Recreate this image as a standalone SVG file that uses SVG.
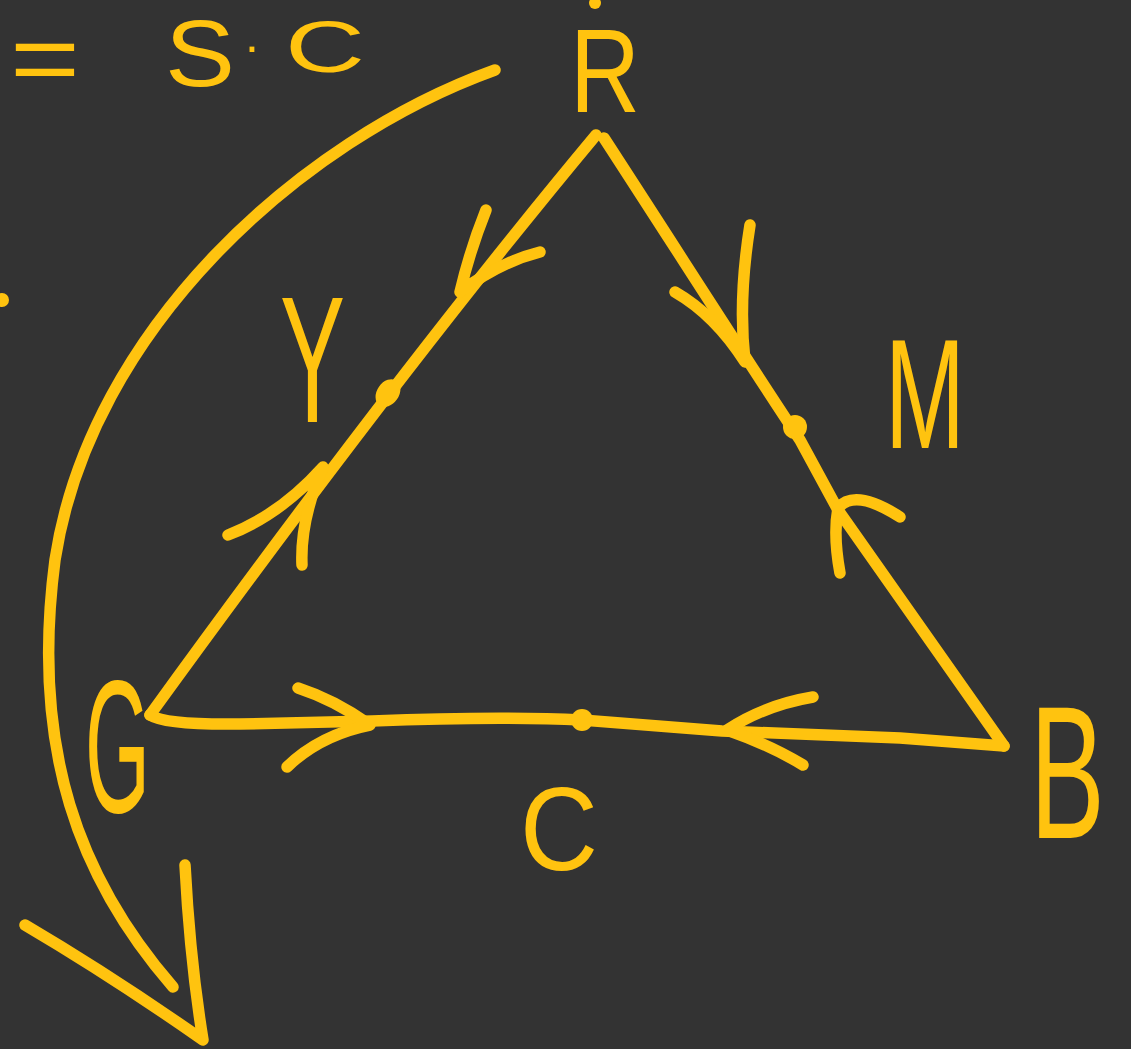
<svg xmlns="http://www.w3.org/2000/svg" width="1131" height="1049" viewBox="0 0 1131 1049">
<style>
.s{fill:none;stroke:#FFC30F;stroke-width:11.5;stroke-linecap:round;stroke-linejoin:round}
.d{fill:#FFC30F}
.t{fill:#FFC30F;font-family:"Liberation Sans","DejaVu Sans",sans-serif}
</style>
<rect width="1131" height="1049" fill="#333333"/>
<g id="connectors">
<path class="s" d="M596,135 Q400,370 150,715"/>
<path class="s" d="M604,138 C680,255 750,365 800,440 L838,510 L1004,746"/>
<path class="s" d="M150,715 Q165,725 240,724 L372,721 Q500,716 582,720 L722,731 L900,738 L1004,746"/>
<path class="s" d="M486,210 Q470,250 460,292 Q500,262 540,252"/>
<path class="s" d="M750,225 Q738,300 745,362 Q715,315 675,292"/>
<path class="s" d="M840,573 Q833,535 838,508 Q855,488 900,517"/>
<path class="s" d="M228,535 Q280,515 323,467 Q300,520 302,565"/>
<path class="s" d="M298,688 Q335,700 370,725 Q320,735 287,767"/>
<path class="s" d="M813,697 Q765,705 727,730 Q770,745 803,765"/>
<path class="s" d="M495,70 C300,140 90,330 55,560 C30,750 80,880 173,987"/>
<path class="s" d="M185,865 Q190,960 203,1040 Q110,975 25,925"/>
</g>
<g id="dots">
<ellipse class="d" cx="388" cy="393" rx="11" ry="15" transform="rotate(35 388 393)"/>
<circle class="d" cx="795" cy="427" r="12"/>
<circle class="d" cx="582" cy="720" r="11"/>
<circle class="d" cx="595" cy="3" r="6"/>
<circle class="d" cx="2" cy="300" r="7"/>
</g>
<g id="node-title">
<text class="t" font-size="100" x="10" y="93" textLength="70" lengthAdjust="spacingAndGlyphs">=</text>
<text class="t" font-size="95" x="165" y="86" textLength="70" lengthAdjust="spacingAndGlyphs">S</text>
<text class="t" font-size="50" x="245" y="52">.</text>
<text class="t" font-size="72" x="285" y="72" textLength="80" lengthAdjust="spacingAndGlyphs">C</text>
</g>
<g id="node-R"><text class="t" font-size="118" x="570" y="112" textLength="70" lengthAdjust="spacingAndGlyphs">R</text></g>
<g id="node-Y"><text class="t" font-size="180" x="280" y="422" textLength="65" lengthAdjust="spacingAndGlyphs">Y</text></g>
<g id="node-M"><text class="t" font-size="155" x="885" y="448" textLength="80" lengthAdjust="spacingAndGlyphs">M</text></g>
<g id="node-G"><text class="t" font-size="190" x="85" y="812" textLength="65" lengthAdjust="spacingAndGlyphs">G</text></g>
<g id="node-B"><text class="t" font-size="135" transform="translate(1030,838) scale(0.83,1.4)">B</text></g>
<g id="node-C"><text class="t" font-size="118" x="520" y="870" textLength="78" lengthAdjust="spacingAndGlyphs">C</text></g>
</svg>
